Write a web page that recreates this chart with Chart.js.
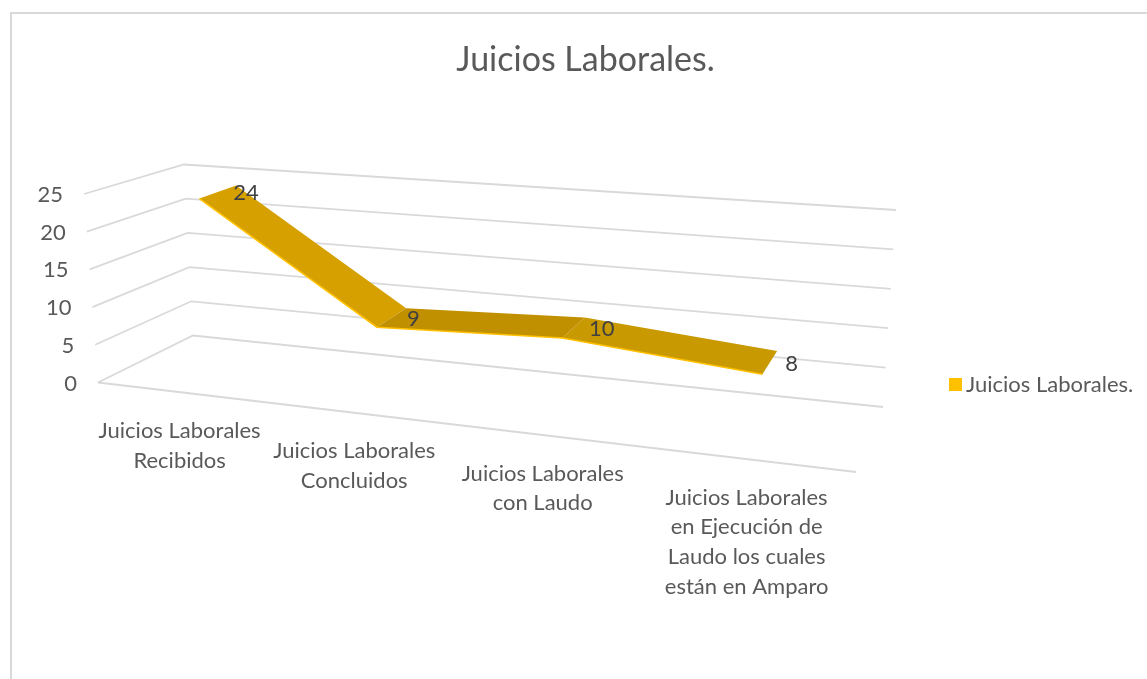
<!DOCTYPE html>
<html>
<head>
<meta charset="utf-8">
<title>Juicios Laborales.</title>
<script src="https://cdn.jsdelivr.net/npm/chart.js@4"></script>
<style>
  html, body { margin: 0; padding: 0; background: #fff; }
  canvas { display: block; }
</style>
</head>
<body>
<canvas id="chart" width="1147" height="679"></canvas>
<script>
const categories = [
  ['Juicios Laborales', 'Recibidos'],
  ['Juicios Laborales', 'Concluidos'],
  ['Juicios Laborales', 'con Laudo'],
  ['Juicios Laborales', 'en Ejecución de', 'Laudo los cuales', 'están en Amparo']
];
const juiciosValues = [24, 9, 10, 8];
const yTicks = { min: 0, max: 25, step: 5 };
const seriesName = 'Juicios Laborales.';
const chartTitle = 'Juicios Laborales.';

const FONT = 'Lato, Carlito, sans-serif';
const GREY = '#595959';
const GRID = '#d9d9d9';
const SERIES_COLOR = '#FFC000';
// shade of each ribbon panel, they catch the light differently
const PANEL_SHADES = ['#D5A000', '#C09000', '#C89900'];

// the box of the 3d plot on the page: front = f, back = b, left/right, bottom/top
const BOX = {
  fbl: [98, 382.5], fbr: [856, 472], ftl: [84, 194], ftr: [869, 261],
  bbl: [193, 335.5], bbr: [883, 407], btl: [184, 164.5], btr: [896, 210]
};
const RIBBON_FRONT = 0.32;
const RIBBON_BACK = 0.72;
const PERSPECTIVE = 1.168;

function mix(a, b, t) {
  return [a[0] + (b[0] - a[0]) * t, a[1] + (b[1] - a[1]) * t];
}

// u along the categories, v up the value axis, w into the depth (all 0..1)
function project(u, v, w) {
  const s = u / (u + (1 - u) * PERSPECTIVE);
  const frontPt = mix(mix(BOX.fbl, BOX.fbr, s), mix(BOX.ftl, BOX.ftr, s), v);
  const backPt = mix(mix(BOX.bbl, BOX.bbr, s), mix(BOX.btl, BOX.btr, s), v);
  return mix(frontPt, backPt, w);
}

function scaleToBox(chart, px, py, w) {
  const area = chart.chartArea;
  const u = (px - area.left) / (area.right - area.left);
  const v = (area.bottom - py) / (area.bottom - area.top);
  return project(u, v, w);
}

const box3d = {
  id: 'box3d',

  // move the line points from the flat plot area onto the ribbon in the box
  afterDatasetsUpdate(chart) {
    chart.data.datasets.forEach((ds, i) => {
      chart.getDatasetMeta(i).data.forEach(pt => {
        const p = scaleToBox(chart, pt.x, pt.y, ds.depth);
        pt.x = p[0];
        pt.y = p[1];
      });
    });
  },

  beforeDraw(chart) {
    const ctx = chart.ctx;
    ctx.save();
    ctx.fillStyle = GRID;
    ctx.fillRect(10, 12, chart.width - 10, 2);
    ctx.fillRect(10, 12, 2, chart.height - 12);
    ctx.restore();
  },

  beforeDatasetsDraw(chart) {
    const ctx = chart.ctx;
    const yScale = chart.scales.y;
    ctx.save();

    // gridlines on side wall and back wall, axis numbers at the front
    ctx.strokeStyle = GRID;
    ctx.lineWidth = 1.8;
    ctx.font = '22px ' + FONT;
    ctx.fillStyle = GREY;
    ctx.textAlign = 'right';
    ctx.textBaseline = 'middle';
    yScale.ticks.forEach(tick => {
      const v = (tick.value - yScale.min) / (yScale.max - yScale.min);
      const a = project(0, v, 0);
      const b = project(0, v, 1);
      const c = project(1, v, 1);
      ctx.beginPath();
      ctx.moveTo(a[0], a[1]);
      ctx.lineTo(b[0], b[1]);
      ctx.lineTo(c[0], c[1]);
      ctx.stroke();
      ctx.fillText(String(tick.value), a[0] - 21, a[1] + 1);
    });

    // floor front edge
    const fl = project(0, 0, 0);
    const fr = project(1, 0, 0);
    ctx.beginPath();
    ctx.moveTo(fl[0], fl[1]);
    ctx.lineTo(fr[0], fr[1]);
    ctx.stroke();

    // ribbon panels between the front and back lines
    const front = chart.getDatasetMeta(0).data;
    const back = chart.getDatasetMeta(1).data;
    PANEL_SHADES.forEach((shade, i) => {
      ctx.fillStyle = shade;
      ctx.beginPath();
      ctx.moveTo(front[i].x, front[i].y);
      ctx.lineTo(front[i + 1].x, front[i + 1].y);
      ctx.lineTo(back[i + 1].x, back[i + 1].y);
      ctx.lineTo(back[i].x, back[i].y);
      ctx.closePath();
      ctx.fill();
    });
    ctx.restore();
  },

  afterDatasetsDraw(chart) {
    const ctx = chart.ctx;
    const xScale = chart.scales.x;
    const area = chart.chartArea;
    const front = chart.getDatasetMeta(0).data;
    const back = chart.getDatasetMeta(1).data;
    ctx.save();

    // value labels sit right of the ribbon middle
    ctx.font = '22px ' + FONT;
    ctx.fillStyle = '#404040';
    ctx.textAlign = 'left';
    ctx.textBaseline = 'middle';
    juiciosValues.forEach((val, i) => {
      const mx = (front[i].x + back[i].x) / 2;
      const my = (front[i].y + back[i].y) / 2;
      ctx.fillText(String(val), mx + 15.5, my + 1);
    });

    // category labels under the floor edge
    ctx.fillStyle = GREY;
    ctx.textAlign = 'center';
    categories.forEach((lines, i) => {
      const u = (xScale.getPixelForValue(i) - area.left) / (area.right - area.left);
      const p = project(u, 0, 0);
      lines.forEach((line, n) => {
        ctx.fillText(line, p[0] - 1, p[1] + 38.5 + n * 29.7);
      });
    });

    // legend
    ctx.fillStyle = SERIES_COLOR;
    ctx.fillRect(949, 378, 13, 13);
    ctx.fillStyle = GREY;
    ctx.textAlign = 'left';
    ctx.fillText(seriesName, 966, 385);
    ctx.restore();
  }
};

new Chart(document.getElementById('chart'), {
  type: 'line',
  data: {
    labels: categories,
    datasets: [
      {
        label: seriesName,
        data: juiciosValues,
        depth: RIBBON_FRONT,
        borderColor: SERIES_COLOR,
        backgroundColor: SERIES_COLOR,
        borderWidth: 1.5,
        pointRadius: 0,
        tension: 0,
        clip: false
      },
      {
        label: seriesName + ' (fondo)',
        data: juiciosValues,
        depth: RIBBON_BACK,
        borderColor: 'rgba(0,0,0,0)',
        borderWidth: 0,
        pointRadius: 0,
        tension: 0,
        clip: false
      }
    ]
  },
  options: {
    responsive: false,
    animation: false,
    layout: { padding: { left: 24 } },
    events: [],
    plugins: {
      legend: { display: false },
      tooltip: { enabled: false },
      title: {
        display: true,
        text: chartTitle,
        color: GREY,
        font: { family: FONT, size: 34, weight: 'normal' },
        padding: { top: 40, bottom: 10 }
      }
    },
    scales: {
      x: { display: false, offset: true },
      y: {
        display: false,
        min: yTicks.min,
        max: yTicks.max,
        ticks: { stepSize: yTicks.step }
      }
    }
  },
  plugins: [box3d]
});
</script>
</body>
</html>
